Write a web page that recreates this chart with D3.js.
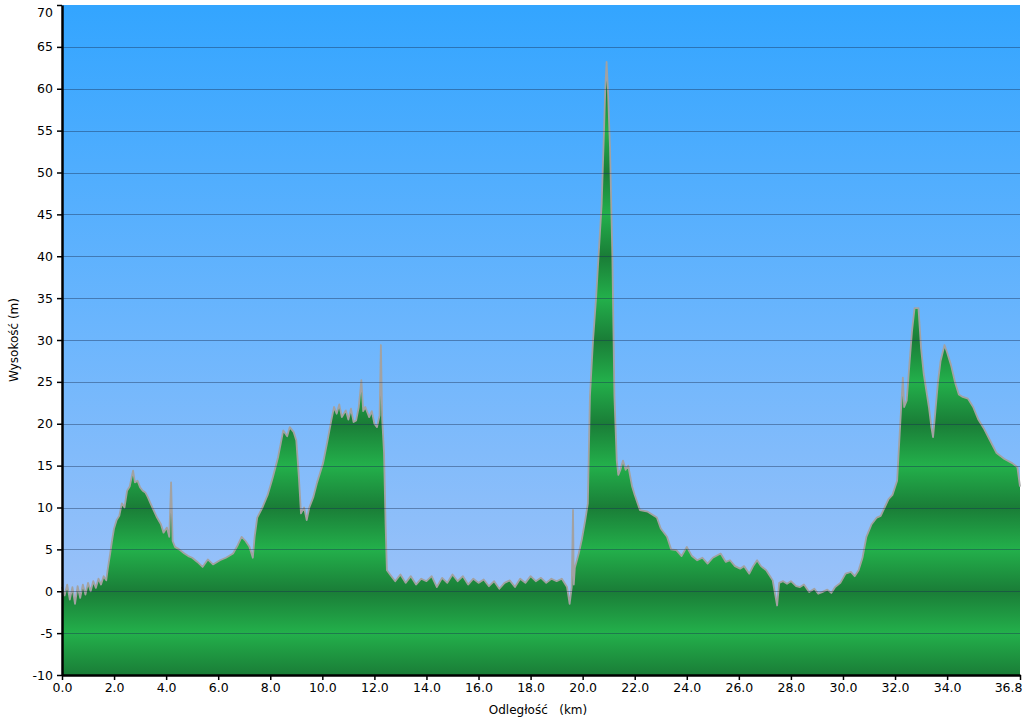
<!DOCTYPE html>
<html><head><meta charset="utf-8">
<script src="https://cdn.jsdelivr.net/npm/d3@7"></script>
<style>body{margin:0;background:#fff}svg{display:block}text{font-family:"DejaVu Sans",Verdana,sans-serif}</style>
</head><body>
<svg id="c" width="1024" height="722"></svg>
<script>
const distanceKm = [0.0,0.1,0.2,0.3,0.4,0.5,0.6,0.7,0.8,0.9,1.0,1.1,1.2,1.3,1.4,1.5,1.6,1.7,1.75,1.85,1.92,2.0,2.1,2.2,2.3,2.4,2.5,2.6,2.73,2.8,2.9,3.0,3.1,3.2,3.3,3.4,3.5,3.65,3.8,3.9,4.03,4.12,4.19,4.25,4.34,4.5,4.7,4.85,5.0,5.2,5.4,5.6,5.8,6.07,6.3,6.57,6.75,6.9,7.05,7.2,7.33,7.4,7.5,7.7,7.9,8.1,8.3,8.5,8.65,8.75,8.9,9.0,9.1,9.18,9.3,9.4,9.5,9.65,9.8,9.9,10.03,10.2,10.35,10.45,10.55,10.65,10.75,10.9,11.0,11.1,11.2,11.3,11.4,11.5,11.57,11.65,11.8,11.9,12.0,12.1,12.2,12.25,12.3,12.37,12.43,12.48,12.6,12.8,13.0,13.2,13.4,13.6,13.8,14.0,14.2,14.4,14.6,14.8,15.0,15.2,15.4,15.6,15.8,16.0,16.2,16.4,16.6,16.8,17.0,17.2,17.4,17.6,17.8,18.0,18.2,18.4,18.6,18.8,19.0,19.2,19.4,19.5,19.58,19.63,19.66,19.7,19.85,19.97,20.1,20.2,20.28,20.4,20.52,20.63,20.73,20.8,20.87,20.92,20.97,21.05,21.14,21.22,21.31,21.37,21.45,21.55,21.65,21.75,21.9,22.0,22.2,22.5,22.85,23.0,23.24,23.4,23.6,23.8,24.0,24.2,24.4,24.6,24.8,25.0,25.3,25.5,25.66,25.85,26.05,26.2,26.4,26.55,26.7,26.85,27.05,27.2,27.3,27.47,27.55,27.7,27.85,28.0,28.2,28.35,28.5,28.7,28.9,29.05,29.2,29.4,29.55,29.7,29.9,30.1,30.3,30.45,30.6,30.75,30.9,31.1,31.3,31.45,31.6,31.75,31.9,32.08,32.2,32.3,32.35,32.45,32.55,32.65,32.75,32.9,33.0,33.1,33.2,33.3,33.4,33.46,33.55,33.65,33.75,33.9,34.0,34.15,34.3,34.45,34.6,34.8,35.0,35.2,35.4,35.65,35.9,36.2,36.5,36.7,36.8];
const elevationM = [0.5,-0.5,0.8,-1.0,0.5,-1.5,0.6,-0.8,0.8,-0.4,1.0,0.0,1.2,0.4,1.5,0.8,1.8,1.3,2.5,4.5,6.0,7.5,8.5,9.0,10.5,10.0,12.0,12.5,14.4,13.0,13.2,12.4,12.0,11.8,11.2,10.5,9.8,8.8,8.0,7.0,7.6,6.5,13.0,6.0,5.3,5.0,4.5,4.2,4.0,3.5,2.9,3.8,3.2,3.7,4.0,4.5,5.5,6.5,6.0,5.3,4.0,6.5,8.8,10.0,11.5,13.6,16.0,19.2,18.5,19.6,19.0,18.0,13.6,9.3,10.0,8.5,10.0,11.2,13.0,14.0,15.3,18.0,20.5,22.0,21.2,22.3,20.8,21.6,20.5,21.8,20.2,20.4,22.0,25.2,21.5,22.0,20.8,21.5,20.0,19.6,21.0,29.4,20.5,16.5,8.0,2.5,2.0,1.2,2.0,1.0,1.8,0.8,1.5,1.2,1.8,0.5,1.6,1.0,2.0,1.2,1.8,0.8,1.5,1.0,1.4,0.6,1.2,0.3,1.0,1.3,0.5,1.5,1.0,1.8,1.2,1.6,1.0,1.5,1.2,1.5,0.5,-1.5,0.5,9.7,0.8,2.8,4.5,6.2,8.5,10.5,23.3,30.0,35.2,41.0,46.2,53.0,60.0,63.2,60.0,53.0,40.2,23.3,15.6,13.9,14.5,15.6,14.5,15.0,12.5,11.5,9.7,9.5,8.8,7.5,6.5,5.0,4.9,4.2,5.3,4.2,3.7,4.0,3.3,4.0,4.5,3.5,3.7,3.0,2.7,3.0,2.1,3.0,3.7,3.0,2.5,1.8,1.3,-1.7,1.0,1.2,0.9,1.2,0.6,0.5,0.8,-0.1,0.3,-0.3,-0.1,0.2,-0.2,0.5,1.0,2.1,2.3,1.8,2.5,4.0,6.5,8.0,8.8,9.0,10.0,11.0,11.5,13.2,20.0,25.5,22.0,22.8,27.0,31.0,33.8,33.8,29.0,26.0,24.0,22.0,19.5,18.4,21.5,25.0,27.5,29.4,28.5,27.0,25.0,23.5,23.2,23.0,22.0,20.5,19.5,18.0,16.5,15.8,15.3,14.8,12.5];
const xTickValues = [0,2,4,6,8,10,12,14,16,18,20,22,24,26,28,30,32,34,36.8];
const yTickValues = [-10,-5,0,5,10,15,20,25,30,35,40,45,50,55,60,65,70];
const xTitle = "Odległość   (km)";
const yTitle = "Wysokość (m)";

const data = distanceKm.map((d,i)=>({d, e: elevationM[i]}));
const svg = d3.select("#c");
const L=62, R=1020, T=5, B=675;
const x = d3.scaleLinear().domain([0,36.8]).range([L,R]);
const y = d3.scaleLinear().domain([-10,70]).range([B,T]);

const defs = svg.append("defs");
const bg = defs.append("linearGradient").attr("id","bg").attr("gradientUnits","userSpaceOnUse")
  .attr("x1",0).attr("x2",0).attr("y1",y(70)).attr("y2",y(-10));
bg.append("stop").attr("offset",0).attr("stop-color","#33a5ff");
bg.append("stop").attr("offset",0.5).attr("stop-color","#6db6fd");
bg.append("stop").attr("offset",1).attr("stop-color","#a9c5f7");

const gr = defs.append("linearGradient").attr("id","gr").attr("gradientUnits","userSpaceOnUse")
  .attr("spreadMethod","repeat").attr("x1",0).attr("x2",0).attr("y1",y(0)).attr("y2",y(-10));
gr.append("stop").attr("offset",0).attr("stop-color","#1a7d37");
gr.append("stop").attr("offset",0.5).attr("stop-color","#23b04b");
gr.append("stop").attr("offset",1).attr("stop-color","#1a7d37");

svg.append("rect").attr("x",x(0)).attr("y",y(70)).attr("width",x(36.8)-x(0)).attr("height",y(-10)-y(70)).attr("fill","url(#bg)");

const area = d3.area().x(d=>x(d.d)).y0(y(-10)).y1(d=>y(d.e));
const line = d3.line().x(d=>x(d.d)).y(d=>y(d.e));
svg.append("path").datum(data).attr("d",area).attr("fill","url(#gr)");
svg.append("path").datum(data).attr("d",line).attr("fill","none").attr("stroke","#a2a2a2").attr("stroke-width",1.8).attr("stroke-linejoin","round");

svg.append("g").selectAll("line").data(yTickValues.filter(v=>v>-10 && v<70)).join("line")
  .attr("x1",L).attr("x2",R).attr("y1",v=>Math.round(y(v))+0.5).attr("y2",v=>Math.round(y(v))+0.5)
  .attr("stroke","rgba(25,45,80,0.42)").attr("stroke-width",1);

const fmtY = v => String(v);
const gx = svg.append("g").attr("transform",`translate(0,${B})`)
  .call(d3.axisBottom(x).tickValues(xTickValues).tickFormat(d3.format(".1f")).tickSize(5).tickSizeOuter(0).tickPadding(3));
const gy = svg.append("g").attr("transform",`translate(${L},0)`)
  .call(d3.axisLeft(y).tickValues(yTickValues).tickFormat(fmtY).tickSize(5).tickSizeOuter(0).tickPadding(4));
[gx,gy].forEach(g=>{
  g.select(".domain").attr("stroke","#000").attr("stroke-width",2.5);
  g.selectAll(".tick line").attr("stroke","#000").attr("stroke-width",1.5);
  g.selectAll(".tick text").attr("font-size",12.5).attr("fill","#000").attr("font-family","DejaVu Sans, Verdana, sans-serif");
});
gx.selectAll(".tick text").filter(d=>d===36.8).attr("text-anchor","end").attr("dx",2);
gy.selectAll(".tick text").filter(d=>d===70).attr("dy","0.95em");

svg.append("text").attr("x",538).attr("y",714).attr("text-anchor","middle").attr("font-size",12)
  .style("white-space","pre").text(xTitle);
svg.append("text").attr("transform",`translate(18,${(T+B)/2}) rotate(-90)`).attr("text-anchor","middle").attr("font-size",12).text(yTitle);
</script>
</body></html>
